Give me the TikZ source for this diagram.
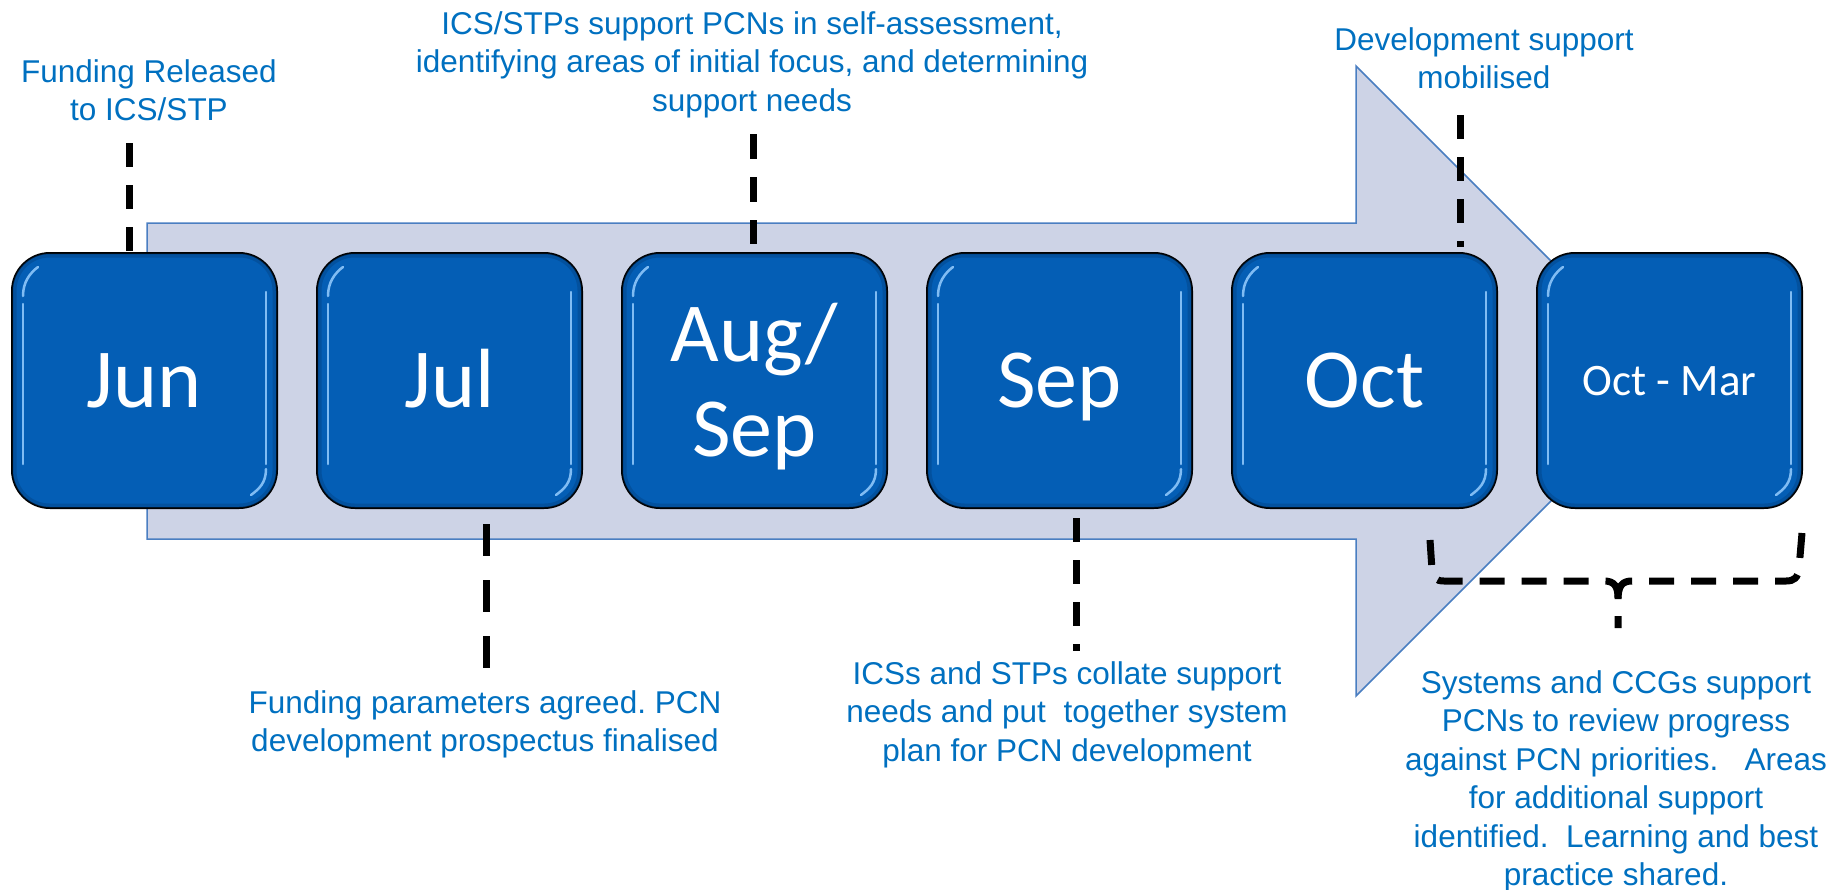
\documentclass[tikz,border=0pt]{standalone}
\usepackage{fontspec}
\setmainfont{Liberation Sans}
\newfontfamily\calfont{Carlito}
\frenchspacing
\definecolor{noteblue}{RGB}{0,112,192}
\definecolor{boxblue}{RGB}{4,94,181}
\definecolor{boxedge}{RGB}{2,66,130}
\definecolor{arrowfill}{RGB}{205,211,230}
\definecolor{arrowline}{RGB}{74,126,193}
\definecolor{gloss}{RGB}{150,205,255}
\begin{document}
\begin{tikzpicture}[x=1pt,y=-1pt,
  note/.style={font={\fontsize{31.5}{38.5}\selectfont}, text=noteblue, align=center, anchor=north, inner sep=0pt},
  month/.style={draw=black, line width=2pt, fill=boxblue, rounded corners=38pt,
    minimum width=265pt, minimum height=255pt, inner sep=0pt, text=white,
    font={\calfont\fontsize{84}{95}\selectfont}, text height=54pt, text depth=0pt, align=center},
  dl/.style={line width=7pt, dash pattern=on 24pt off 18pt},
  gl/.style={gloss, line width=2.5pt, line cap=round, opacity=0.85},
  bevel/.style={boxedge, line width=4pt, opacity=0.45, rounded corners=35pt},
  bigarrow/.style={fill=arrowfill, draw=arrowline, line width=1.5pt}
]
\useasboundingbox (0,0) rectangle (1841,889);

% big arrow
\draw[bigarrow] (147,223) -- (1356,223) -- (1356,66) -- (1671,381) -- (1356,696) -- (1356,539) -- (147,539) -- cycle;

% month boxes
\node[month] (jun) at (144.5,380.5) {Jun};
\node[month] (jul) at (449.5,380.5) {Jul};
\node[month, text height=151pt, text depth=0pt] (aug) at (754.5,380.5) {Aug/\\Sep};
\node[month] (sep) at (1059.5,380.5) {Sep};
\node[month] (oct) at (1364.5,380.5) {Oct};
\node[month, font={\calfont\fontsize{45}{54}\selectfont}, text height=29pt] (ocm) at (1669.5,380.5) {Oct - Mar};

% bevel and gloss highlights
\foreach \b in {jun,jul,aug,sep,oct,ocm}{
  \draw[bevel] ([shift={(3.5,3.5)}]\b.north west) rectangle ([shift={(-3.5,-3.5)}]\b.south east);
  \draw[gl] ([shift={(12,44)}]\b.north west) .. controls +(0,-14) and +(-8,6) .. ([shift={(27,15)}]\b.north west);
  \draw[gl] ([shift={(12,52)}]\b.north west) -- ([shift={(12,-45)}]\b.south west);
  \draw[gl] ([shift={(-12,40)}]\b.north east) -- ([shift={(-12,-45)}]\b.south east);
  \draw[gl] ([shift={(-12,-40)}]\b.south east) .. controls +(0,14) and +(8,-6) .. ([shift={(-27,-14)}]\b.south east);
}

% notes
\node[note] (n1) at (149,55) {\strut Funding Released\\to ICS/STP};
\node[note] (n2) at (752,7) {\strut ICS/STPs support PCNs in self-assessment,\\identifying areas of initial focus, and determining\\support needs};
\node[note] (n3) at (1484,23) {\strut Development support\\mobilised};
\node[note] (n4) at (485,686) {\strut Funding parameters agreed. PCN\\development prospectus finalised};
\node[note] (n5) at (1067,657) {\strut ICSs and STPs collate support\\needs and put\ \ together system\\plan for PCN development};
\node[note] (n6) at (1616,666) {\strut Systems and CCGs support\\PCNs to review progress\\against PCN priorities.\ \ \ Areas\\for additional support\\identified.\ \ Learning and best\\practice shared.};

% dashed connectors
\coordinate (c1) at (129,143);
\draw[dl] (c1) -- (c1 |- jun.north);
\coordinate (c2a) at (486,524); \coordinate (c2b) at (486,668);
\draw[dl, dash pattern=on 32pt off 24pt] (c2a) -- (c2b);
\coordinate (c3a) at (753,134); \coordinate (c3b) at (753,244);
\draw[dl, dash pattern=on 25pt off 18pt] (c3a) -- (c3b);
\coordinate (c4a) at (1076,518); \coordinate (c4b) at (1076,651);
\draw[dl] (c4a) -- (c4b);
\coordinate (c5a) at (1460,115); \coordinate (c5b) at (1460,247);
\draw[dl] (c5a) -- (c5b);

% brace under Oct - Mar
\coordinate (bl) at (1430,540);
\coordinate (br) at (1802,533);
\coordinate (bt) at (1618,628);
\draw[dl, dash pattern=on 25pt off 17pt] (bl) -- (1432,570) .. controls (1433,578) and (1436,581) .. (1444,581) -- (1604,581) .. controls (1614,581) and (1618,586) .. (1618,598) -- (bt);
\draw[dl, dash pattern=on 25pt off 17pt] (br) -- (1799,568) .. controls (1798,578) and (1794,581) .. (1786,581) -- (1632,581) .. controls (1622,581) and (1618,586) .. (1618,600);
\end{tikzpicture}
\end{document}
